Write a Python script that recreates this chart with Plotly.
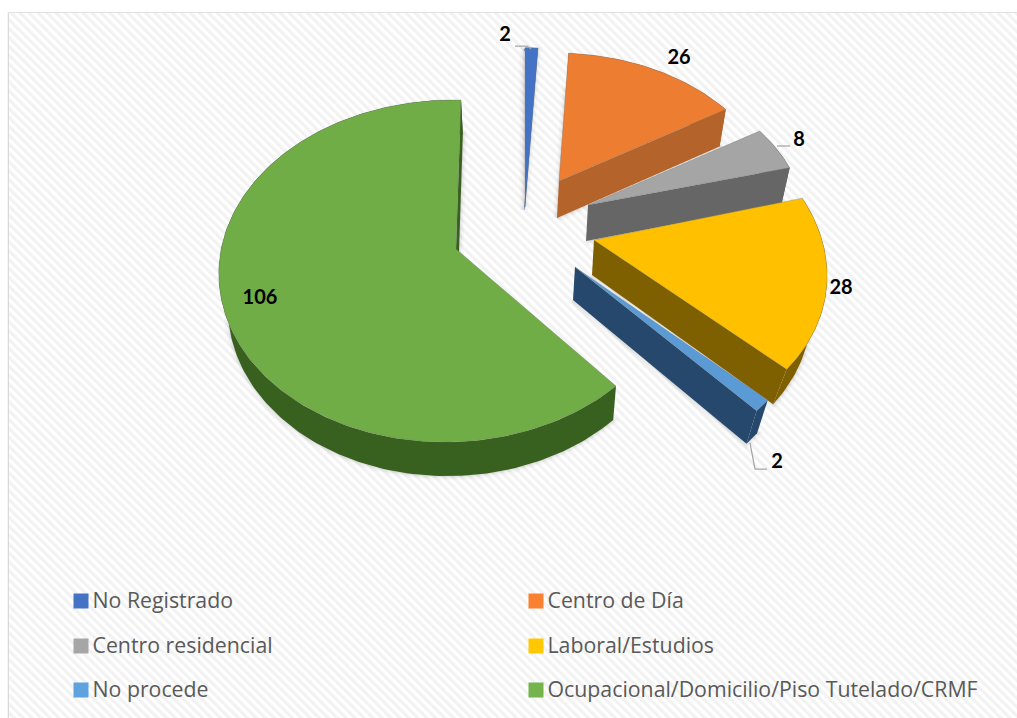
import base64
import math
import plotly.graph_objects as go

# ---- data ----
categories = ["No Registrado", "Centro de Día", "Centro residencial",
              "Laboral/Estudios", "No procede",
              "Ocupacional/Domicilio/Piso Tutelado/CRMF"]
values = [2, 26, 8, 28, 2, 106]

# ---- styles ----
top_colors = ["#4472C4", "#ED7D31", "#A5A5A5", "#FFC000", "#5B9BD5", "#70AD47"]
side_colors = ["#3F69B6", "#B4632A", "#666666", "#7F6000", "#25486C", "#38601F"]
swatch_colors = ["#4472C4", "#F9812F", "#A6A6A6", "#FFC800", "#5FA3DE", "#75B34B"]

RX, RY, PERSP = 228, 171, 0.129
# apex, scale x/y, shear, side-wall thickness, bottom-face shrink and shift, tilt
geometry = [
    dict(ax=525, ay=207, sx=0.9, sy=1.07, shear=0, th=3, bx=1.0, d0=-1, m=0),
    dict(ax=559, ay=181, sx=0.93, sy=0.86, shear=4, th=37, bx=0.975, d0=-2, m=0),
    dict(ax=588, ay=205, sx=0.945, sy=0.89, shear=0, th=36, bx=0.97, d0=-2, m=0),
    dict(ax=594, ay=240, sx=1.0, sy=1.0, shear=20, th=35, bx=0.94, d0=-2, m=0),
    dict(ax=575, ay=267, sx=1.0, sy=1.03, shear=20, th=33, bx=0.955, d0=-2, m=0),
    dict(ax=456, ay=249, sx=1.0, sy=1.0, shear=-5, th=34, bx=0.97, d0=2, m=-0.03),
]

label_xy = [(505, 36), (679, 59), (799, 141), (841, 289), (777, 463), (260, 299)]
legend_xy = [(81, 601), (536, 601), (81, 646), (536, 646), (81, 690), (536, 690)]
legend_text_dx, legend_text_dy = 11.5, 1.5
leaders = [[(515, 46), (527, 46), (531, 49)],
           [(777, 146), (790, 146)],
           [(750, 443), (755, 469), (767, 469)]]


def top_point(deg, g):
    th = math.radians(deg)
    u, v = math.sin(th), -math.cos(th)
    s = 1 + PERSP * v + g["m"] * u
    return (g["ax"] + RX * u * s * g["sx"] + g["shear"] * v,
            g["ay"] + RY * v * s * g["sy"])


def bottom_point(p, g):
    return (g["ax"] + g["d0"] + (p[0] - g["ax"]) * g["bx"], p[1] + g["th"])


def poly(points, color, name, line="rgba(0,0,0,0)", width=0):
    xs = [p[0] for p in points] + [points[0][0]]
    ys = [p[1] for p in points] + [points[0][1]]
    return go.Scatter(x=xs, y=ys, mode="lines", fill="toself", fillcolor=color,
                      line=dict(color=line, width=width), name=name,
                      hoverinfo="name", showlegend=False)


total = sum(values)
spans = []
acc = 0
for val in values:
    spans.append((acc * 360 / total, (acc + val) * 360 / total))
    acc += val

slices = []
for i in range(len(values)):
    a, b = spans[i]
    g = geometry[i]
    n = max(6, int(b - a))
    arc = [top_point(a + (b - a) * j / n, g) for j in range(n + 1)]
    slices.append((arc, (g["ax"], g["ay"]), g))

fig = go.Figure()

# soft shadows first, so that every slice sits on top of them
for i, (arc, apex, g) in enumerate(slices):
    outline = [bottom_point(apex, g)] + [bottom_point(p, g) for p in arc]
    for w, alpha in ((9, 0.025), (5, 0.04), (2, 0.05)):
        fig.add_trace(poly(outline, "rgba(0,0,0,0)", categories[i],
                           f"rgba(0,0,0,{alpha})", w))

for i, (arc, apex, g) in enumerate(slices):
    end_face = [apex, arc[-1], bottom_point(arc[-1], g), bottom_point(apex, g)]
    arc_face = arc + [bottom_point(p, g) for p in reversed(arc)]
    name = f"{categories[i]}: {values[i]}"
    fig.add_trace(poly(end_face, side_colors[i], name))
    fig.add_trace(poly(arc_face, side_colors[i], name))
    fig.add_trace(poly([apex] + arc, top_colors[i], name, "rgba(110,110,110,0.55)", 0.6))

# value labels
fig.add_trace(go.Scatter(
    x=[p[0] for p in label_xy], y=[p[1] for p in label_xy],
    mode="text", text=[str(v) for v in values], textposition="middle center",
    textfont=dict(family="Lato", size=20, color="#000000", weight="bold"),
    hoverinfo="skip", showlegend=False))

# legend swatches and names
fig.add_trace(go.Scatter(
    x=[p[0] for p in legend_xy], y=[p[1] for p in legend_xy],
    mode="markers",
    marker=dict(symbol="square", size=15, color=swatch_colors, line=dict(width=0)),
    hoverinfo="skip", showlegend=False))
fig.add_trace(go.Scatter(
    x=[p[0] + legend_text_dx for p in legend_xy], y=[p[1] + legend_text_dy for p in legend_xy],
    mode="text", text=categories, textposition="middle right",
    textfont=dict(family="Open Sans", size=21.3, color="#595959"),
    hoverinfo="skip", showlegend=False))

hatch = ('<svg xmlns="http://www.w3.org/2000/svg" width="1017" height="718">'
         '<defs><pattern id="h" width="6.4" height="6.4" patternUnits="userSpaceOnUse" '
         'patternTransform="rotate(-45)"><rect width="6.4" height="6.4" fill="#FFFFFF"/>'
         '<rect width="3.2" height="6.4" fill="#F2F2F2"/></pattern></defs>'
         '<rect width="1017" height="718" fill="url(#h)"/></svg>')
hatch_uri = "data:image/svg+xml;base64," + base64.b64encode(hatch.encode()).decode()

shapes = [
    dict(type="rect", x0=63, x1=976, y0=577, y1=710, layer="below",
         fillcolor="rgba(255,255,255,0.78)", line=dict(width=0)),
    dict(type="path", path="M 9,718 L 9,13.5 L 1017,13.5", layer="below",
         line=dict(color="#D9D9D9", width=2.5)),
]
for pts in leaders:
    path = "M " + " L ".join(f"{x},{y}" for x, y in pts)
    shapes.append(dict(type="path", path=path, layer="above",
                       line=dict(color="#A6A6A6", width=1.25)))

fig.update_layout(
    width=1017, height=718, margin=dict(l=0, r=0, t=0, b=0),
    paper_bgcolor="#FFFFFF", plot_bgcolor="rgba(0,0,0,0)", showlegend=False,
    xaxis=dict(range=[0, 1017], visible=False, fixedrange=True),
    yaxis=dict(range=[718, 0], visible=False, fixedrange=True),
    shapes=shapes,
    images=[dict(source=hatch_uri, xref="x", yref="y", x=9, y=13, sizex=1008, sizey=705,
                 xanchor="left", yanchor="top", sizing="stretch", layer="below")],
)

fig.write_html("out.html", config={"displayModeBar": False},
               post_script="document.body.style.margin='0';document.body.style.overflow='hidden';")
